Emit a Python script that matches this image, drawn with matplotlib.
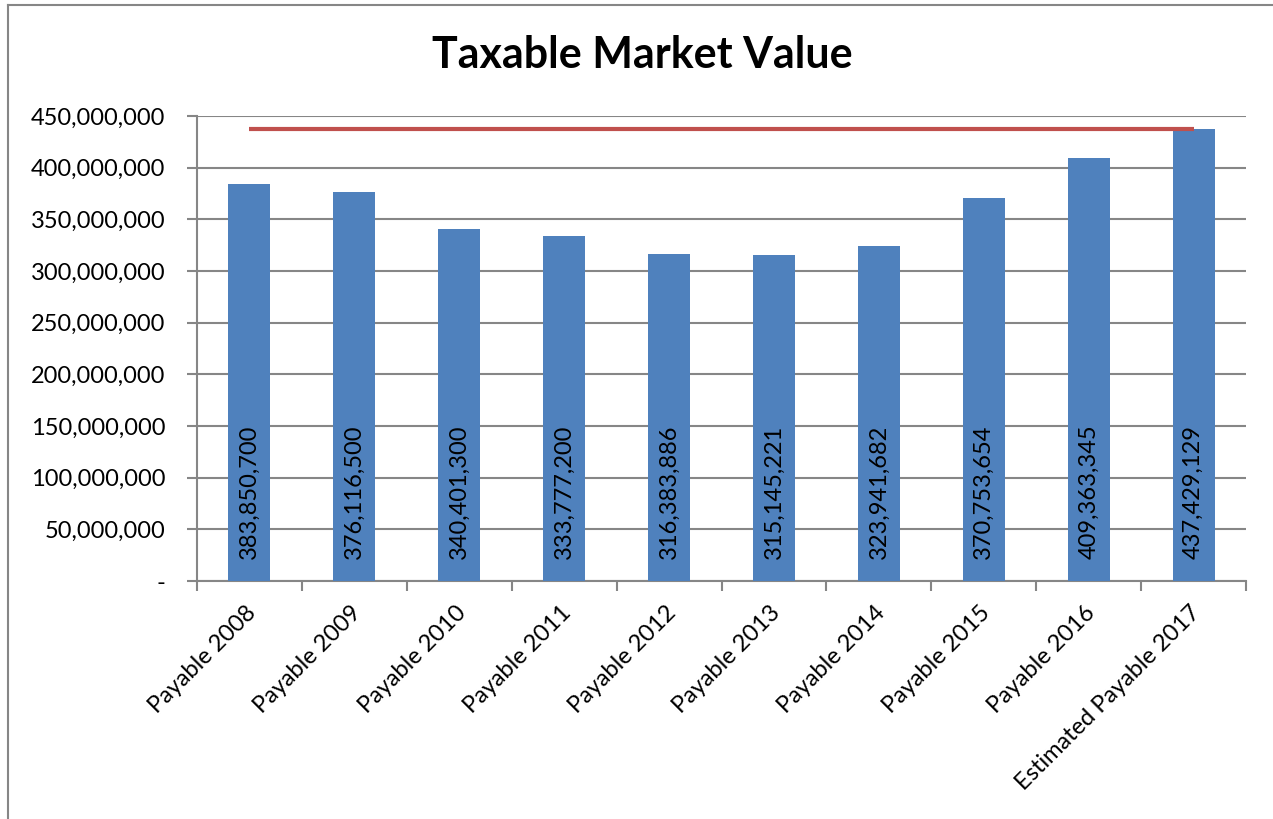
import numpy as np
import matplotlib.pyplot as plt
from matplotlib.lines import Line2D
from matplotlib.ticker import FuncFormatter

plt.rcParams['font.family'] = ['Lato', 'DejaVu Sans']

categories = ['Payable 2008', 'Payable 2009', 'Payable 2010', 'Payable 2011',
              'Payable 2012', 'Payable 2013', 'Payable 2014', 'Payable 2015',
              'Payable 2016', 'Estimated Payable 2017']
values = [383850700, 376116500, 340401300, 333777200, 316383886,
          315145221, 323941682, 370753654, 409363345, 437429129]
y_ticks = np.arange(0, 450000001, 50000000)

bar_color = '#4F81BD'
line_color = '#C0504D'
grid_color = '#868686'

fig = plt.figure(figsize=(12.73, 8.19), dpi=100)
ax = fig.add_axes([197/1273, 1 - 581/819, 1049/1273, 465/819])

x = np.arange(len(categories))
ax.bar(x, values, width=0.4, color=bar_color, zorder=3)

# flat reference line at the latest value, spanning all categories
ax.plot([x[0], x[-1]], [values[-1], values[-1]], color=line_color,
        linewidth=3, solid_capstyle='butt', zorder=4)

for xi, v in zip(x, values):
    ax.text(xi, 21000000, f'{v:,}', rotation=90, ha='center', va='bottom',
            fontsize=17, color='black', zorder=5)

ax.set_xlim(-0.5, len(categories) - 0.5)
ax.set_ylim(0, 450000000)
ax.set_yticks(y_ticks)
ax.yaxis.set_major_formatter(FuncFormatter(lambda v, p: '-' if v == 0 else f'{int(v):,}'))
ax.set_xticks(np.arange(-0.5, len(categories) + 0.5, 1))
ax.set_xticklabels([])
ax.tick_params(axis='y', labelsize=17, length=7, width=1.5, color=grid_color, pad=16)
ax.tick_params(axis='x', length=7, width=1.5, color=grid_color)

for xi, name in zip(x, categories):
    ax.text(xi - 0.04, -20000000, name, rotation=45, ha='right', va='top',
            rotation_mode='anchor', fontsize=17)

ax.grid(axis='y', color=grid_color, linewidth=1.5, zorder=0)
for side in ['top', 'right']:
    ax.spines[side].set_visible(False)
for side in ['left', 'bottom']:
    ax.spines[side].set_color(grid_color)
    ax.spines[side].set_linewidth(1.5)

fig.text(642/1273, 1 - 55/819, 'Taxable Market Value', ha='center', va='center',
         fontsize=31, fontweight='bold')

# chart area border (top and left edges)
fig.add_artist(Line2D([8/1273, 1], [1 - 5/819, 1 - 5/819], color=grid_color, linewidth=1.5))
fig.add_artist(Line2D([8/1273, 8/1273], [0, 1 - 5/819], color=grid_color, linewidth=1.5))

fig.savefig('out.png', dpi=100)
